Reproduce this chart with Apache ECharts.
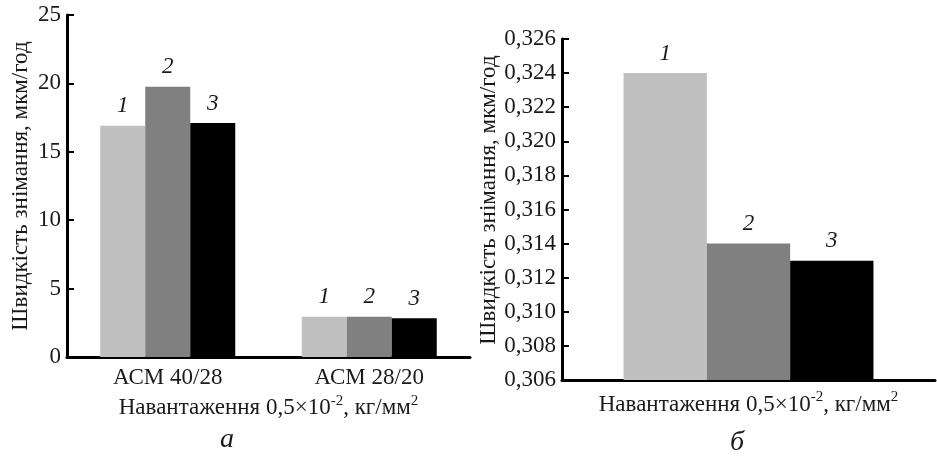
<!DOCTYPE html>
<html>
<head>
<meta charset="utf-8">
<script src="https://cdn.jsdelivr.net/npm/echarts@6/dist/echarts.min.js"></script>
<style>
  html, body { margin: 0; padding: 0; background: #fff; }
  #chart { width: 937px; height: 456px; }
</style>
</head>
<body>
<div id="chart"></div>
<script>
// chart (а): removal rate for two powders, three variants each
var categoriesA = ['АСМ 40/28', 'АСМ 28/20']
var variant1A = [16.9, 2.95]
var variant2A = [19.75, 2.95]
var variant3A = [17.1, 2.83]

// chart (б): one load, three variants
var categoriesB = ['']
var variant1B = [0.324]
var variant2B = [0.314]
var variant3B = [0.313]

var seriesNames = ['1', '2', '3']
var barColors = ['#c0c0c0', '#808080', '#000000']

var FONT = 'Liberation Serif'
var TEXT = '#1a1a1a'
var FS = 23

var chart = echarts.init(document.getElementById('chart'))

var axisNameX = '{t|Навантаження 0,5×10}{s|-2}{t|, кг/мм}{s|2}'
var nameRich = {
  t: { fontSize: FS, fontFamily: FONT, color: TEXT, lineHeight: 26, verticalAlign: 'bottom' },
  s: { fontSize: 15, fontFamily: FONT, color: TEXT, lineHeight: 26, verticalAlign: 'top' }
}

function xAxisCfg(grid, data, showLabel, gap) {
  return {
    type: 'category',
    gridIndex: grid,
    data: data,
    name: axisNameX,
    nameLocation: 'middle',
    nameGap: gap,
    nameTextStyle: { fontFamily: FONT, rich: nameRich },
    axisLine: { lineStyle: { color: '#000', width: 3 } },
    axisTick: { inside: true, length: 7, lineStyle: { color: '#000', width: 2 } },
    axisLabel: { show: showLabel, margin: 9, fontSize: FS, fontFamily: FONT, color: TEXT }
  }
}

function yAxisCfg(grid, min, max, interval, fmt, gap, pad) {
  return {
    type: 'value',
    gridIndex: grid,
    min: min,
    max: max,
    interval: interval,
    name: 'Швидкість знімання, мкм/год',
    nameLocation: 'middle',
    nameGap: gap,
    nameTextStyle: { fontSize: FS, fontFamily: FONT, color: TEXT, padding: pad },
    axisLine: { show: true, lineStyle: { color: '#000', width: 3 } },
    axisTick: { show: true, inside: true, length: 7, lineStyle: { color: '#000', width: 2 } },
    splitLine: { show: false },
    axisLabel: { margin: 6, fontSize: FS, fontFamily: FONT, color: TEXT, formatter: fmt }
  }
}

function barSeries(name, idx, data, color) {
  return {
    name: name,
    type: 'bar',
    xAxisIndex: idx,
    yAxisIndex: idx,
    data: data,
    barGap: 0,
    barCategoryGap: '33%',
    itemStyle: { color: color },
    label: {
      show: true,
      position: 'top',
      distance: 8,
      formatter: '{a}',
      fontSize: FS,
      fontStyle: 'italic',
      fontFamily: FONT,
      color: TEXT
    }
  }
}

var option = {
  animation: false,
  textStyle: { fontFamily: FONT },
  grid: [
    { left: 67, top: 15, width: 403, height: 342 },
    { left: 562, top: 39, width: 373, height: 341 }
  ],
  xAxis: [
    xAxisCfg(0, categoriesA, true, 34),
    xAxisCfg(1, categoriesB, false, 10)
  ],
  yAxis: [
    yAxisCfg(0, 0, 25, 5, function (v) { return String(v) }, 35, 0),
    yAxisCfg(1, 0.306, 0.326, 0.002, function (v) { return v.toFixed(3).replace('.', ',') }, 62, [0, 0, 0, 19])
  ],
  series: [
    barSeries(seriesNames[0], 0, variant1A, barColors[0]),
    barSeries(seriesNames[1], 0, variant2A, barColors[1]),
    barSeries(seriesNames[2], 0, variant3A, barColors[2]),
    barSeries(seriesNames[0], 1, variant1B, barColors[0]),
    barSeries(seriesNames[1], 1, variant2B, barColors[1]),
    barSeries(seriesNames[2], 1, variant3B, barColors[2])
  ],
  graphic: [
    { type: 'text', x: 227, y: 440, style: { text: 'а', align: 'center', verticalAlign: 'middle', font: 'italic 28px "Liberation Serif"', fill: TEXT } },
    { type: 'text', x: 737, y: 443, style: { text: 'б', align: 'center', verticalAlign: 'middle', font: 'italic 28px "Liberation Serif"', fill: TEXT } }
  ]
}

chart.setOption(option)
</script>
</body>
</html>
